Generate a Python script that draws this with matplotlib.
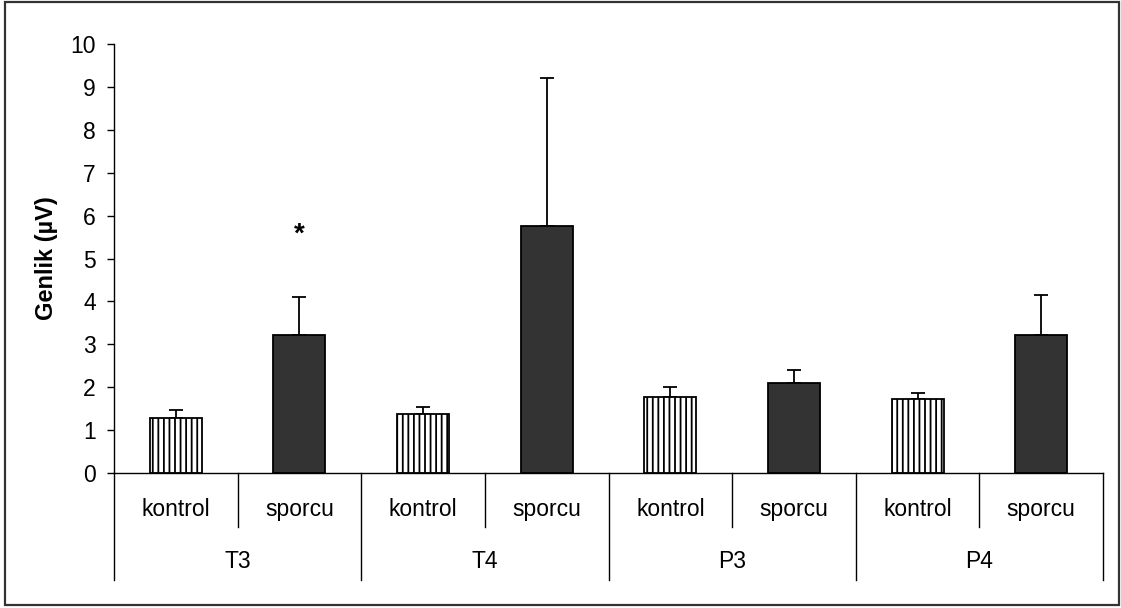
import matplotlib
matplotlib.use("Agg")
import matplotlib.pyplot as plt
import matplotlib.transforms as mtransforms
from matplotlib.patches import Rectangle
import numpy as np

plt.rcParams['font.family'] = ['Liberation Sans', 'DejaVu Sans']
plt.rcParams['hatch.linewidth'] = 1.3

# data
groups = ['T3', 'T4', 'P3', 'P4']
subgroups = ['kontrol', 'sporcu']
kontrol_mean = [1.28, 1.37, 1.78, 1.72]
kontrol_err = [0.18, 0.18, 0.22, 0.15]
sporcu_mean = [3.22, 5.75, 2.10, 3.22]
sporcu_err = [0.88, 3.45, 0.30, 0.93]
star_group = 'T3'
star_y = 5.55

fig = plt.figure(figsize=(11.21, 6.08), dpi=100)
ax = fig.add_axes([114 / 1121, 1 - 473 / 608, (1103 - 114) / 1121, (473 - 44) / 608])

n = len(groups)
xk = np.arange(n) * 2 + 0.5
xs = np.arange(n) * 2 + 1.5
w = 0.42
ekw = dict(elinewidth=1.3, capthick=1.3, ecolor='black')
fs = 16.5

ax.bar(xk, kontrol_mean, width=w, color='white', edgecolor='black', linewidth=1.3,
       hatch='|||', zorder=2)
ax.errorbar(xk, kontrol_mean, yerr=[np.zeros(n), kontrol_err], fmt='none',
            capsize=5, zorder=1, **ekw)
ax.bar(xs, sporcu_mean, width=w, color='#333333', edgecolor='black', linewidth=1.3, zorder=2)
ax.errorbar(xs, sporcu_mean, yerr=[np.zeros(n), sporcu_err], fmt='none',
            capsize=5, zorder=1, **ekw)

gi = groups.index(star_group)
ax.text(xs[gi], star_y, '*', ha='center', va='center', fontsize=20, fontweight='bold')

ax.set_xlim(0, 2 * n)
ax.set_ylim(0, 10)
ax.set_yticks(range(0, 11))
ax.tick_params(axis='y', direction='out', length=5, width=1, pad=8, labelsize=fs)
ax.set_xticks([])
for s in ['top', 'right']:
    ax.spines[s].set_visible(False)
ax.spines['left'].set_linewidth(1)
ax.spines['bottom'].set_linewidth(1)
ax.set_ylabel('Genlik (µV)', fontsize=17, fontweight='bold', labelpad=9)

# category axis below
trans = mtransforms.blended_transform_factory(ax.transData, ax.transAxes)
for i in range(n + 1):
    ax.plot([2 * i, 2 * i], [0, -0.249], color='black', lw=1, transform=trans, clip_on=False)
for i in range(n):
    ax.plot([2 * i + 1, 2 * i + 1], [0, -0.126], color='black', lw=1, transform=trans, clip_on=False)
    ax.text(xk[i], -0.086, subgroups[0], ha='center', va='center', fontsize=fs, transform=trans)
    ax.text(xs[i], -0.086, subgroups[1], ha='center', va='center', fontsize=fs, transform=trans)
    ax.text(2 * i + 1, -0.207, groups[i], ha='center', va='center', fontsize=fs, transform=trans)

# outer frame
fig.patches.append(Rectangle((5 / 1121, 1 - 605 / 608), (1119 - 5) / 1121, (605 - 2) / 608,
                             transform=fig.transFigure, fill=False, edgecolor='#333333', lw=1.6))

fig.savefig('out.png', dpi=100)
